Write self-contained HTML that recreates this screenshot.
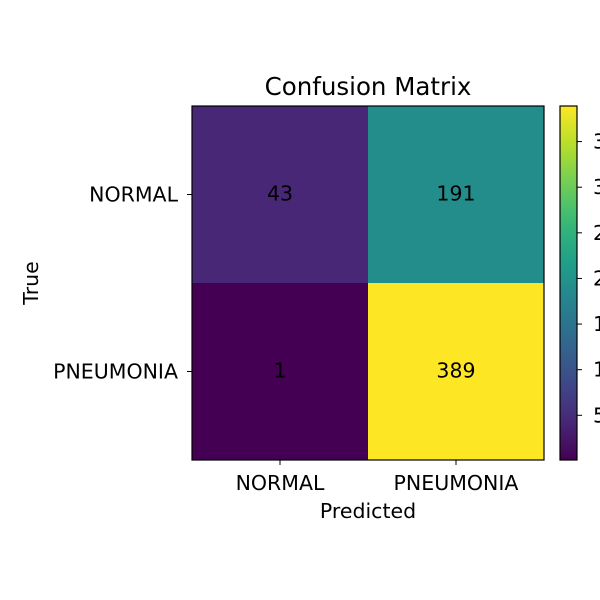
<!DOCTYPE html>
<html><head><meta charset="utf-8"><style>
body{margin:0;background:#fff}
svg{display:block;font-family:"DejaVu Sans","Liberation Sans",sans-serif}
</style></head><body>
<svg id="c" width="600" height="600" viewBox="0 0 600 600">
<rect width="600" height="600" fill="#fff"/>
</svg>
<script>
const classLabels=["NORMAL","PNEUMONIA"];
const row0=[43,191];
const row1=[1,389];
const cbTicks=[50,100,150,200,250,300,350];
const matrix=[row0,row1];
const NS="http://www.w3.org/2000/svg";
const svg=document.getElementById('c');
const FS='20.5';
function el(t,a,p){const e=document.createElementNS(NS,t);for(const k in a)e.setAttribute(k,a[k]);(p||svg).appendChild(e);return e;}
const stops=[[68,1,84],[72,40,120],[62,74,137],[49,104,142],[38,130,142],[31,158,137],[53,183,121],[110,206,88],[181,222,43],[253,231,37]];
function viridis(t){t=Math.max(0,Math.min(1,t));const f=t*(stops.length-1);const i=Math.min(stops.length-2,Math.floor(f));const r=f-i;const a=stops[i],b=stops[i+1];return `rgb(${a.map((v,k)=>Math.round(v+(b[k]-v)*r)).join(',')})`;}
const all=row0.concat(row1);const vmin=Math.min(...all),vmax=Math.max(...all);
const L=192,T=106,W=352,H=354;const cw=W/2,ch=H/2;
const xC=j=>L+cw*(j+0.5), yC=i=>T+ch*(i+0.5);
matrix.forEach((row,i)=>row.forEach((v,j)=>{
 const r=el('rect',{x:L+cw*j,y:T+ch*i,width:cw,height:ch,fill:viridis((v-vmin)/(vmax-vmin))});
 
 
 const t=el('text',{x:xC(j),y:yC(i)+6,'text-anchor':'middle','font-size':FS,fill:'#000'});t.textContent=v;
 
 
}));
el('rect',{x:L,y:T,width:W,height:H,fill:'none',stroke:'#000','stroke-width':1.2,});
classLabels.forEach((lab,k)=>{
 el('line',{x1:xC(k),x2:xC(k),y1:T+H,y2:T+H+5,stroke:'#000'});
 const tx=el('text',{x:xC(k),y:490,'text-anchor':'middle','font-size':FS});tx.textContent=lab;
 
 
 el('line',{x1:L-5,x2:L,y1:yC(k),y2:yC(k),stroke:'#000'});
 const ty=el('text',{x:L-14,y:yC(k)+7,'text-anchor':'end','font-size':FS});ty.textContent=lab;
 
 
});
el('text',{x:368,y:518,'text-anchor':'middle','font-size':FS,}).textContent='Predicted';
el('text',{x:38,y:283,'text-anchor':'middle','font-size':FS,transform:'rotate(-90 38 283)',}).textContent='True';
el('text',{x:368,y:95,'text-anchor':'middle','font-size':'24.5',}).textContent='Confusion Matrix';
const cbL=560,cbW=17;
const g=el('defs',{});const lg=el('linearGradient',{id:'vg',x1:0,y1:1,x2:0,y2:0},g);
for(let k=0;k<=20;k++)el('stop',{offset:k/20,'stop-color':viridis(k/20)},lg);
el('rect',{x:cbL,y:T,width:cbW,height:H,fill:'url(#vg)',stroke:'#000','stroke-width':1.2,});
const cy=v=>T+H-(v-vmin)/(vmax-vmin)*H;
cbTicks.forEach(v=>{
 el('line',{x1:cbL+cbW,x2:cbL+cbW+5,y1:cy(v),y2:cy(v),stroke:'#000'});
 const t=el('text',{x:cbL+cbW+16,y:cy(v)+7,'font-size':FS});t.textContent=v;
 
 
});
</script>
</body></html>
